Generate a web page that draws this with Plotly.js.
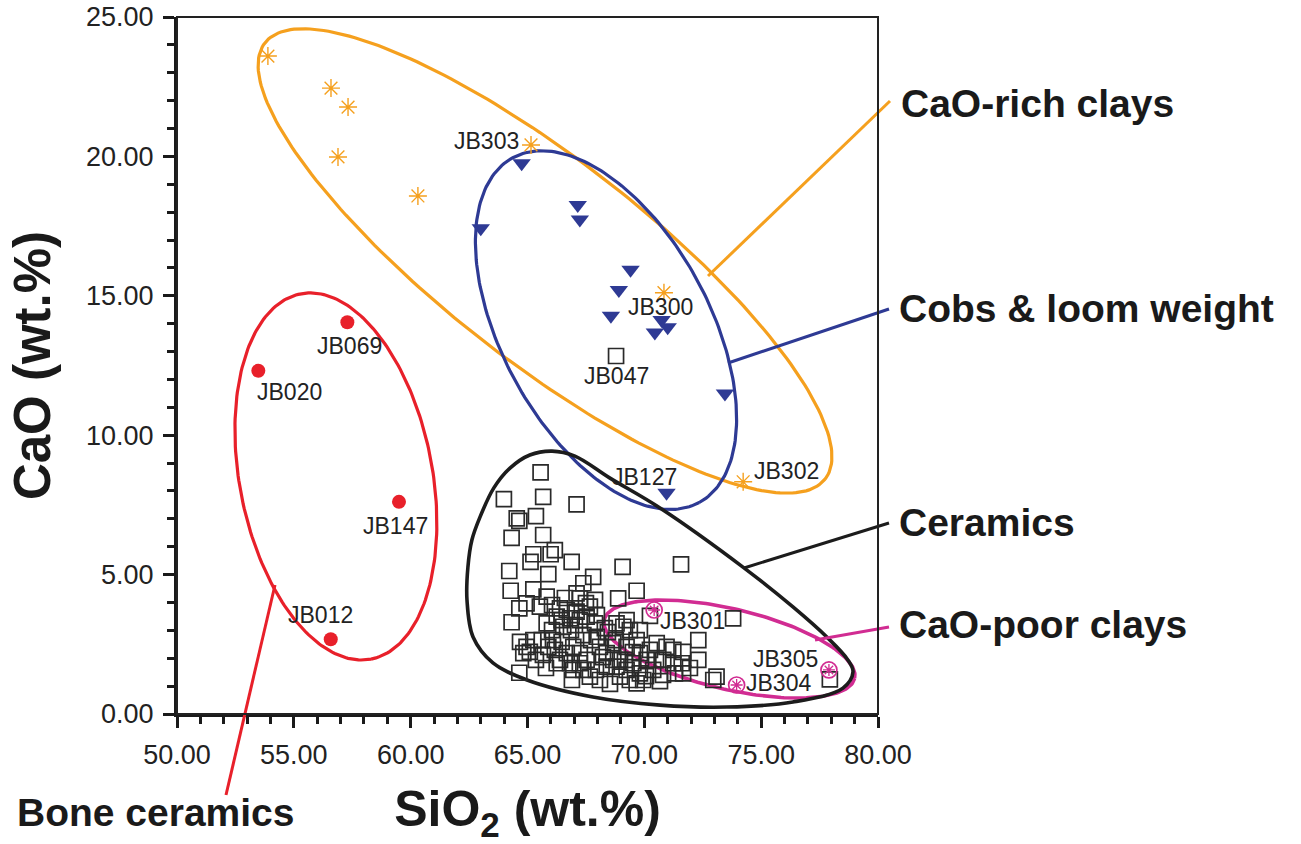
<!DOCTYPE html>
<html>
<head>
<meta charset="utf-8">
<script src="https://cdn.plot.ly/plotly-3.0.1.min.js"></script>
<style>html,body{margin:0;padding:0;background:#fff}#chart{width:1301px;height:844px}</style>
</head>
<body>
<div id="chart"></div>
<script>
// ---------------- DATA ----------------
const caoRichSiO2 = [53.89, 56.59, 57.32, 56.89, 60.31, 65.15, 70.84, 74.23];
const caoRichCaO  = [23.60, 22.45, 21.77, 19.98, 18.58, 20.41, 15.11, 8.33];
const caoRichLabels = ["", "", "", "", "", "JB303", "JB300", "JB302"];

const cobsSiO2 = [64.75, 67.15, 67.24, 63.00, 69.41, 68.91, 68.57, 70.74, 71.00, 70.45, 73.45, 70.95];
const cobsCaO  = [19.75, 18.26, 17.74, 17.42, 15.93, 15.21, 14.28, 14.13, 13.87, 13.68, 11.50, 7.94];
const cobsLabels = ["", "", "", "", "", "", "", "", "", "", "", "JB127"];

const boneSiO2 = [53.48, 57.29, 59.50, 56.58];
const boneCaO  = [12.31, 14.05, 7.61, 2.68];
const boneLabels = ["JB020", "JB069", "JB147", "JB012"];

const caoPoorSiO2 = [70.42, 73.95, 77.90];
const caoPoorCaO  = [3.73, 1.04, 1.58];
const caoPoorLabels = ["JB301", "JB304", "JB305"];

const ceramicsSiO2 = [68.79,
  65.56, 63.99, 65.67, 67.10, 64.54, 64.65, 65.36, 64.32, 65.67, 66.17, 65.25, 65.99, 65.13, 66.89, 64.22,
  65.89, 67.81, 69.07, 71.57, 67.39, 64.28, 65.25, 65.82, 64.65, 64.32, 68.88, 69.67, 73.80, 72.31, 72.31,
  72.95, 73.09, 77.94, 64.65, 70.24, 67.10, 67.24,
  64.68, 64.96, 65.25, 65.61, 64.82, 65.10, 65.89, 66.17, 66.46, 66.68, 66.96, 67.24, 66.39, 66.82, 67.24,
  67.53, 67.39, 67.67, 66.96, 67.96, 68.10, 68.39, 68.67, 68.81, 68.39, 68.96, 68.67, 69.24, 69.17,
  66.39, 66.68, 66.25, 66.46, 66.82, 66.53, 67.10, 67.24, 67.53, 67.03, 67.67, 67.89, 67.89, 68.81, 69.24,
  69.10, 69.38, 69.67, 69.81, 70.24, 70.53, 70.10, 69.53, 69.24, 69.81, 70.38, 69.95, 69.38, 71.24, 71.66,
  70.81, 71.24, 71.60, 71.31, 71.66,
  65.36, 65.79, 66.25, 68.10, 68.53, 65.53, 64.96, 65.82, 67.39, 66.05, 68.31, 70.67, 69.67, 70.95, 71.95,
  66.05, 67.50, 66.86, 67.72, 68.23, 67.93, 68.96, 69.51, 70.07, 70.50, 70.80, 65.66, 68.78, 68.44, 66.60,
  67.97, 69.81, 66.90, 66.09];
const ceramicsCaO = [12.84,
  8.67, 7.71, 7.79, 7.52, 7.02, 6.93, 7.10, 6.32, 6.42, 5.88, 5.73, 5.73, 5.46, 5.46, 5.13,
  5.02, 4.92, 5.28, 5.37, 4.69, 4.42, 4.47, 4.21, 3.79, 3.29, 4.15, 4.42, 3.43, 2.65, 1.94,
  1.22, 1.34, 1.24, 1.48, 3.52, 4.33, 4.15,
  2.59, 2.41, 2.65, 2.65, 2.18, 2.23, 2.41, 2.30, 2.59, 2.18, 2.41, 2.18, 1.94, 1.82, 1.82,
  1.94, 1.58, 1.34, 1.58, 2.77, 2.41, 2.18, 1.94, 1.70, 1.70, 1.34, 2.54, 2.41, 1.94,
  3.79, 3.73, 3.49, 3.37, 3.43, 3.13, 3.67, 3.37, 3.49, 3.19, 3.85, 4.09, 3.25, 3.25, 3.37,
  3.13, 3.01, 2.65, 2.18, 2.30, 2.54, 1.94, 1.82, 1.58, 1.46, 1.58, 1.22, 1.22, 2.30, 2.23,
  1.94, 1.82, 1.82, 1.46, 1.46,
  1.94, 1.65, 1.82, 1.22, 1.08, 3.85, 3.97, 3.25, 2.83, 3.01, 3.08, 1.18, 1.10, 2.41, 1.65,
  3.91, 3.98, 3.01, 2.65, 2.04, 1.58, 1.94, 2.22, 1.36, 1.94, 1.40, 2.12, 2.65, 2.94, 4.16,
  3.55, 3.01, 1.22, 2.65];
const ceramicsLabels = ["JB047"];

// Ceramics field outline (hand-drawn teardrop in the reference)
const ceramicsFieldSiO2 = [62.41, 62.45, 62.62, 62.97, 63.56, 64.25, 65.10, 66.05, 67.03, 68.53, 70.67, 74.22,
  76.36, 77.81, 78.71, 78.93, 78.50, 76.36, 73.53, 70.67, 67.80, 64.98, 63.52, 62.67, 62.41];
const ceramicsFieldCaO = [4.09, 5.27, 6.24, 7.07, 8.11, 8.82, 9.29, 9.43, 9.25, 8.46, 7.39, 5.27,
  3.84, 2.76, 1.94, 1.51, 0.93, 0.43, 0.25, 0.32, 0.61, 1.22, 1.83, 2.76, 4.09];

const groupNames = ["CaO-rich clays", "Cobs & loom weight", "Ceramics", "CaO-poor clays", "Bone ceramics"];
const xTicks = [50, 55, 60, 65, 70, 75, 80];
const yTicks = [0, 5, 10, 15, 20, 25];

// ---------------- STYLE / LAYOUT CONFIG ----------------
const C = {orange: "#F5A01E", blue: "#2E3A94", red: "#E8202A", magenta: "#D12C92", black: "#1c1c1c"};
const PLOT = {l: 177, r: 423, t: 17, b: 130, W: 1301, H: 844};
const plotW = PLOT.W - PLOT.l - PLOT.r, plotH = PLOT.H - PLOT.t - PLOT.b;
const X_RANGE = [50, 80], Y_RANGE = [0, 25];
const kx = plotW / (X_RANGE[1] - X_RANGE[0]);
const ky = plotH / (Y_RANGE[1] - Y_RANGE[0]);

// confidence ellipses: centre in data units, semi-axes in screen px, angle in screen degrees
const ellipses = [
  {color: C.orange, cx: 65.75, cy: 16.25, a: 355, b: 101, angle: 37.9, width: 3.2},
  {color: C.blue, cx: 68.36, cy: 13.77, a: 196, b: 104, angle: 61.6, width: 3.2},
  {color: C.red, cx: 56.80, cy: 8.52, a: 186, b: 96.4, angle: 79.1, width: 3.2},
  {color: C.magenta, cx: 73.64, cy: 2.33, a: 128.6, b: 40.3, angle: 13.2, width: 3.6}
];
function ellipsePts(e) {
  const xs = [], ys = [], th = e.angle * Math.PI / 180;
  for (let i = 0; i <= 240; i++) {
    const t = 2 * Math.PI * i / 240;
    const dx = e.a * Math.cos(t) * Math.cos(th) - e.b * Math.sin(t) * Math.sin(th);
    const dy = e.a * Math.cos(t) * Math.sin(th) + e.b * Math.sin(t) * Math.cos(th);
    xs.push(e.cx + dx / kx); ys.push(e.cy - dy / ky);
  }
  return {xs, ys};
}

// label offsets (px) from their points: [dx right, dy down]
const labelOffsets = {
  JB303: [-45, -4], JB300: [-3, 14], JB302: [43, -11], JB127: [-22, -16],
  JB020: [31, 21], JB069: [2, 24], JB147: [-3, 24], JB012: [-10, -24],
  JB301: [38, 11], JB304: [42, -2], JB305: [-43, -11], JB047: [0, 20]
};

// group labels & leader lines, in screen px
const groupLabelPos = [[899, 103], [897, 308], [897, 522], [897, 624], [15, 812]];
const leaders = [
  {color: C.orange, p: [[708, 276], [890, 101]]},
  {color: C.blue, p: [[728, 363], [889, 309]]},
  {color: C.black, p: [[744, 568], [889, 523]]},
  {color: C.magenta, p: [[815, 640], [889, 627]]},
  {color: C.red, p: [[275, 585], [226, 795]]}
];
const px2paperX = px => (px - PLOT.l) / plotW;
const px2paperY = py => (PLOT.H - PLOT.b - py) / plotH;

const FONT = "Liberation Sans, Arial, Helvetica, sans-serif";

// ---------------- TRACES ----------------
const traces = [];
ellipses.forEach(e => {
  const p = ellipsePts(e);
  traces.push({x: p.xs, y: p.ys, mode: "lines", type: "scatter", line: {color: e.color, width: e.width}, hoverinfo: "skip", showlegend: false});
});
traces.push({x: ceramicsFieldSiO2, y: ceramicsFieldCaO, mode: "lines", type: "scatter",
  line: {color: C.black, width: 3.6, shape: "spline", smoothing: 1}, hoverinfo: "skip", showlegend: false});

traces.push({x: ceramicsSiO2, y: ceramicsCaO, mode: "markers", type: "scatter", name: "Ceramics",
  marker: {symbol: "square-open", size: 15, color: "#2a2a2a", line: {width: 1.7}}});
traces.push({x: caoRichSiO2, y: caoRichCaO, mode: "markers", type: "scatter", name: "CaO-rich clays",
  marker: {symbol: "asterisk-open", size: 15, color: C.orange, line: {width: 1.4, color: C.orange}}});
traces.push({x: cobsSiO2, y: cobsCaO, mode: "markers", type: "scatter", name: "Cobs & loom weight",
  marker: {symbol: "triangle-down", size: 16, color: C.blue}});
traces.push({x: boneSiO2, y: boneCaO, mode: "markers", type: "scatter", name: "Bone ceramics",
  marker: {symbol: "circle", size: 14, color: C.red}});
traces.push({x: caoPoorSiO2, y: caoPoorCaO, mode: "markers", type: "scatter", name: "CaO-poor clays",
  marker: {symbol: "circle-open", size: 16, color: C.magenta, line: {width: 1.7, color: C.magenta}}});
traces.push({x: caoPoorSiO2, y: caoPoorCaO, mode: "markers", type: "scatter", showlegend: false, hoverinfo: "skip",
  marker: {symbol: "asterisk-open", size: 10, color: C.magenta, line: {width: 1.3, color: C.magenta}}});

// ---------------- ANNOTATIONS ----------------
const annotations = [];
function addLabels(xs, ys, labels) {
  labels.forEach((lab, i) => {
    if (!lab) return;
    const off = labelOffsets[lab] || [0, 0];
    annotations.push({x: xs[i], y: ys[i], xref: "x", yref: "y", text: lab, showarrow: false,
      xshift: off[0], yshift: -off[1], xanchor: "center", yanchor: "middle",
      font: {family: FONT, size: 23, color: "#222"}});
  });
}
addLabels(caoRichSiO2, caoRichCaO, caoRichLabels);
addLabels(cobsSiO2, cobsCaO, cobsLabels);
addLabels(boneSiO2, boneCaO, boneLabels);
addLabels(caoPoorSiO2, caoPoorCaO, caoPoorLabels);
addLabels(ceramicsSiO2, ceramicsCaO, ceramicsLabels);

groupNames.forEach((g, i) => {
  annotations.push({x: px2paperX(groupLabelPos[i][0]), y: px2paperY(groupLabelPos[i][1]), xref: "paper", yref: "paper",
    text: "<b>" + g + "</b>", showarrow: false, xanchor: "left", yanchor: "middle",
    font: {family: FONT, size: 39, color: "#1a1a1a"}});
});

const shapes = leaders.map(l => ({type: "line", xref: "paper", yref: "paper",
  x0: px2paperX(l.p[0][0]), y0: px2paperY(l.p[0][1]), x1: px2paperX(l.p[1][0]), y1: px2paperY(l.p[1][1]),
  line: {color: l.color, width: 3}}));
shapes.push({type: "rect", xref: "paper", yref: "paper", x0: 0, y0: 0, x1: 1, y1: 1, line: {color: "#222", width: 2}});

const axisCommon = {showgrid: false, zeroline: false, showline: true, linecolor: "#1a1a1a", linewidth: 3,
  ticks: "outside", ticklen: 11, tickwidth: 3, tickcolor: "#1a1a1a", tickformat: ".2f",
  tickfont: {family: FONT, size: 27, color: "#222"}, fixedrange: true};

const layout = {
  width: PLOT.W, height: PLOT.H,
  margin: {l: PLOT.l, r: PLOT.r, t: PLOT.t, b: PLOT.b, pad: 0},
  paper_bgcolor: "#fff", plot_bgcolor: "#fff", showlegend: false,
  xaxis: Object.assign({}, axisCommon, {range: X_RANGE, tickvals: xTicks, ticklabelstandoff: 4,
    minor: {dtick: 1, ticks: "outside", ticklen: 7, tickwidth: 3, tickcolor: "#1a1a1a", showgrid: false},
    title: {text: "<b>SiO<sub>2</sub> (wt.%)</b>", font: {family: FONT, size: 50, color: "#1a1a1a"}, standoff: 26}}),
  yaxis: Object.assign({}, axisCommon, {range: Y_RANGE, tickvals: yTicks, ticklabelstandoff: 4,
    minor: {dtick: 1, ticks: "outside", ticklen: 7, tickwidth: 3, tickcolor: "#1a1a1a", showgrid: false},
    title: {text: "<b>CaO (wt.%)</b>", font: {family: FONT, size: 51, color: "#1a1a1a"}, standoff: 20}}),
  annotations: annotations,
  shapes: shapes
};

Plotly.newPlot("chart", traces, layout, {displayModeBar: false, staticPlot: true});
</script>
</body>
</html>
